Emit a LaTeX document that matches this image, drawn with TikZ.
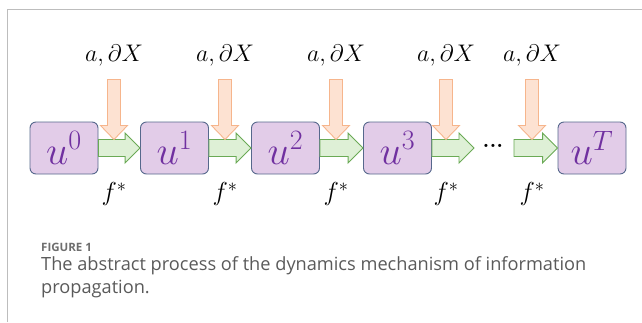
\RequirePackage{fix-cm}
\documentclass[tikz,border=0pt]{standalone}
\usepackage{fontspec}
\setsansfont{Open Sans}
\usetikzlibrary{calc}
\definecolor{boxfill}{HTML}{E2CCE8}
\definecolor{boxline}{HTML}{56688C}
\definecolor{upurple}{HTML}{7030A0}
\definecolor{gfill}{HTML}{DEF0D6}
\definecolor{gline}{HTML}{6AAA55}
\definecolor{ofill}{HTML}{FDE2D2}
\definecolor{oline}{HTML}{F6B58C}
\definecolor{capgray}{HTML}{5A5A5A}
\definecolor{figgray}{HTML}{6E6E6E}
\definecolor{framegray}{HTML}{BDBDBD}
\begin{document}
\begin{tikzpicture}[x=1pt,y=-1pt,
 ubox/.style={draw=boxline, fill=boxfill, rounded corners=6pt, minimum width=68pt, minimum height=52pt, inner sep=0pt, line width=0.9pt, text=upurple, font=\fontsize{40}{40}\selectfont},
 fat/.style={draw=gline, fill=gfill, line width=0.9pt, line join=miter,
   to path={let \p1=(\tikztostart), \p2=(\tikztotarget) in
     ({\x1},{\y1+8.5pt}) -- ({\x2-15pt},{\y1+8.5pt}) -- ({\x2-15pt},{\y1+15pt}) -- ({\x2},{\y1}) -- ({\x2-15pt},{\y1-15pt}) -- ({\x2-15pt},{\y1-8.5pt}) -- ({\x1},{\y1-8.5pt}) -- cycle}},
 down/.style={draw=oline, fill=ofill, line width=0.9pt, line join=miter,
   to path={let \p2=(\tikztotarget) in
     ({\x2-6.5pt},{\y2+60pt}) -- ({\x2-6.5pt},{\y2+14pt}) -- ({\x2-13.5pt},{\y2+14pt}) -- ({\x2},{\y2}) -- ({\x2+13.5pt},{\y2+14pt}) -- ({\x2+6.5pt},{\y2+14pt}) -- ({\x2+6.5pt},{\y2+60pt}) -- cycle}},
 inlab/.style={font=\fontsize{24}{24}\selectfont, inner sep=0pt},
 flab/.style={font=\fontsize{26}{26}\selectfont, inner sep=0pt},
 captext/.style={anchor=base west, inner sep=0pt, text=capgray, font=\sffamily\fontsize{18.2}{18.2}\selectfont},
]
\useasboundingbox (0,0) rectangle (642,322);
\draw[framegray, line width=1pt] (7,322) -- (7,9) -- (642,9);

\node[ubox] (u0) at (64,148) {$u^0$};
\node[ubox] (u1) at (174.5,148) {$u^1$};
\node[ubox] (u2) at (285.5,148) {$u^2$};
\node[ubox] (u3) at (397.5,148) {$u^3$};
\node[ubox] (uT) at (592,148) {$u^T$};

\node[font=\fontsize{22}{22}\selectfont\bfseries, inner sep=0pt] (dots) at (493,146) {...};
\coordinate (s5) at (514,148);

\draw[fat] (u0.east) to (u1.west);
\draw[fat] (u1.east) to (u2.west);
\draw[fat] (u2.east) to (u3.west);
\draw[fat] (u3.east) to (474,148);
\draw[fat] (s5) to (uT.west);

\foreach \i/\x in {1/114,2/225,3/336,4/446,5/532}{
  \node[inlab] (in\i) at (\x,55) {$a,\partial X$};
  \coordinate (o\i) at (\x,139.5);
  \draw[down] (in\i) to (o\i);
  \node[flab] (f\i) at (\x,194) {$f^*$};
}

\node[anchor=base west, inner sep=0pt, text=figgray, font=\sffamily\bfseries\fontsize{11.5}{11.5}\selectfont] (fig) at (41,251) {FIGURE 1};
\node[captext] (cap1) at (41,270) {The abstract process of the dynamics mechanism of information};
\node[captext] (cap2) at (41,293) {propagation.};
\end{tikzpicture}
\end{document}
